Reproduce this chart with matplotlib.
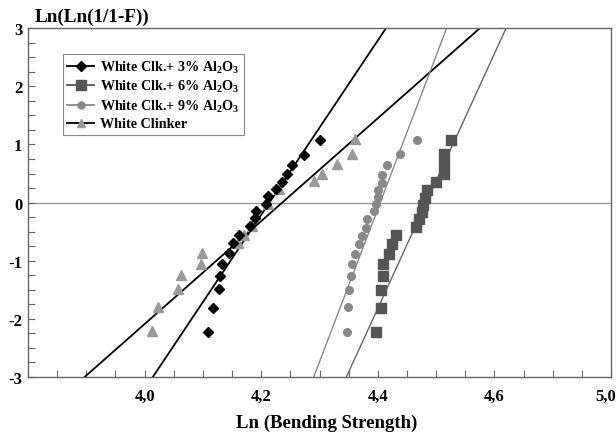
import matplotlib
matplotlib.use("Agg")
import matplotlib.pyplot as plt
from matplotlib.ticker import FixedLocator, FixedFormatter, MultipleLocator
from matplotlib.transforms import ScaledTranslation

plt.rcParams['font.family'] = ['Liberation Serif', 'DejaVu Serif']
plt.rcParams['font.weight'] = 'bold'
plt.rcParams['mathtext.fontset'] = 'custom'
plt.rcParams['mathtext.rm'] = 'Liberation Serif:bold'
plt.rcParams['mathtext.it'] = 'Liberation Serif:bold'
plt.rcParams['mathtext.bf'] = 'Liberation Serif:bold'
plt.rcParams['axes.unicode_minus'] = False

# valores (Weibull)
x_3 = [4.300, 4.273, 4.253, 4.245, 4.235, 4.226, 4.212, 4.209, 4.191, 4.190,
       4.180, 4.162, 4.151, 4.145, 4.133, 4.130, 4.127, 4.117, 4.108]
y_3 = [1.08, 0.82, 0.65, 0.50, 0.35, 0.23, 0.11, -0.02, -0.14, -0.27,
       -0.41, -0.56, -0.69, -0.86, -1.05, -1.26, -1.49, -1.81, -2.23]

x_6 = [4.525, 4.513, 4.513, 4.513, 4.500, 4.485, 4.481, 4.477, 4.476, 4.471,
       4.465, 4.431, 4.424, 4.419, 4.409, 4.408, 4.406, 4.406, 4.396]
y_6 = [1.08, 0.83, 0.66, 0.50, 0.36, 0.21, 0.08, -0.05, -0.16, -0.29,
       -0.42, -0.56, -0.72, -0.88, -1.06, -1.26, -1.51, -1.81, -2.22]

x_9 = [4.467, 4.438, 4.416, 4.407, 4.407, 4.401, 4.401, 4.396, 4.393, 4.381,
       4.379, 4.373, 4.367, 4.360, 4.356, 4.354, 4.350, 4.349, 4.347]
y_9 = [1.08, 0.83, 0.64, 0.48, 0.34, 0.22, 0.10, -0.02, -0.15, -0.29,
       -0.43, -0.57, -0.72, -0.88, -1.06, -1.26, -1.51, -1.80, -2.23]

x_wc = [4.013, 4.023, 4.057, 4.063, 4.097, 4.098, 4.160, 4.171, 4.185, 4.211,
        4.231, 4.291, 4.305, 4.330, 4.355, 4.360]
y_wc = [-2.21, -1.80, -1.49, -1.25, -1.05, -0.86, -0.69, -0.56, -0.41, -0.03,
        0.23, 0.37, 0.50, 0.66, 0.84, 1.09]

# retas de ajuste (extremos)
fit_3_x, fit_3_y = [4.014, 4.414], [-3, 3]
fit_6_x, fit_6_y = [4.346, 4.620], [-3, 3]
fit_9_x, fit_9_y = [4.290, 4.518], [-3, 3]
fit_wc_x, fit_wc_y = [3.897, 4.575], [-3, 3]

xticks = [4.0, 4.2, 4.4, 4.6, 4.8]
xticklabels = ['4,0', '4,2', '4,4', '4,6', '5,0']
yticks = [-3, -2, -1, 0, 1, 2, 3]
yticklabels = ['-3', '-2', '-1', '0', '1', '2', '3']

labels = [r'White Clk.+ 3% Al$_2$O$_3$', r'White Clk.+ 6% Al$_2$O$_3$',
          r'White Clk.+ 9% Al$_2$O$_3$', 'White Clinker']

fig = plt.figure(figsize=(6.16, 4.35), dpi=100)
ax = fig.add_axes([0.0455, 0.131, 0.9465, 0.802])

ax.axhline(0, color='#999999', lw=1.0, zorder=1)

ax.plot(fit_wc_x, fit_wc_y, color='black', lw=1.3, zorder=2)
ax.plot(fit_3_x, fit_3_y, color='black', lw=1.3, zorder=2)
ax.plot(fit_9_x, fit_9_y, color='#888888', lw=1.0, zorder=2)
ax.plot(fit_6_x, fit_6_y, color='#666666', lw=1.0, zorder=2)

ax.plot(x_wc, y_wc, ls='none', marker='^', ms=7.5, color='#999999', mec='#999999', zorder=3)
ax.plot(x_9, y_9, ls='none', marker='o', ms=5.5, color='#888888', mec='#888888', zorder=3)
ax.plot(x_6, y_6, ls='none', marker='s', ms=7.5, color='#555555', mec='#555555', zorder=3)
ax.plot(x_3, y_3, ls='none', marker='D', ms=5.5, color='black', zorder=4)

# legenda com linha + marcador
h1, = ax.plot([], [], color='black', lw=1.3, marker='D', ms=5)
h2, = ax.plot([], [], color='#555555', lw=1.3, marker='s', ms=7)
h3, = ax.plot([], [], color='#888888', lw=1.3, marker='o', ms=5)
h4, = ax.plot([], [], color='black', lw=1.3, marker='^', ms=6, mfc='#999999', mec='#999999')
leg = ax.legend([h1, h2, h3, h4], labels, loc='upper left',
                bbox_to_anchor=(0.060, 0.925), borderaxespad=0,
                fancybox=False, framealpha=1, edgecolor='#888888',
                fontsize=10.2, labelspacing=0.25, handlelength=1.9,
                handletextpad=0.4, borderpad=0.3)
leg.get_frame().set_linewidth(0.8)

ax.set_xlim(3.8, 4.8)
ax.set_ylim(-3, 3)
ax.xaxis.set_major_locator(FixedLocator(xticks))
ax.xaxis.set_major_formatter(FixedFormatter(xticklabels))
ax.xaxis.set_minor_locator(MultipleLocator(0.05))
ax.yaxis.set_major_locator(FixedLocator(yticks))
ax.yaxis.set_major_formatter(FixedFormatter(yticklabels))
ax.yaxis.set_minor_locator(MultipleLocator(0.25))
ax.tick_params(which='both', direction='in', length=5, color='#666666', width=0.8)
ax.tick_params(axis='x', labelsize=12, pad=8)
ax.tick_params(axis='y', labelsize=12, pad=4)

for sp in ax.spines.values():
    sp.set_color('#666666')
    sp.set_linewidth(1.0)

# ultimo rotulo encostado na borda
last = ax.get_xticklabels()[-1]
last.set_transform(last.get_transform() + ScaledTranslation(-5 / 100, 0, fig.dpi_scale_trans))

fig.text(0.057, 0.94, 'Ln(Ln(1/1-F))', fontsize=13.8, fontweight='bold', ha='left', va='bottom')
fig.text(0.53, 0.008, 'Ln (Bending Strength)', fontsize=13.5, fontweight='bold', ha='center', va='bottom')

fig.savefig('out.png', dpi=100)
